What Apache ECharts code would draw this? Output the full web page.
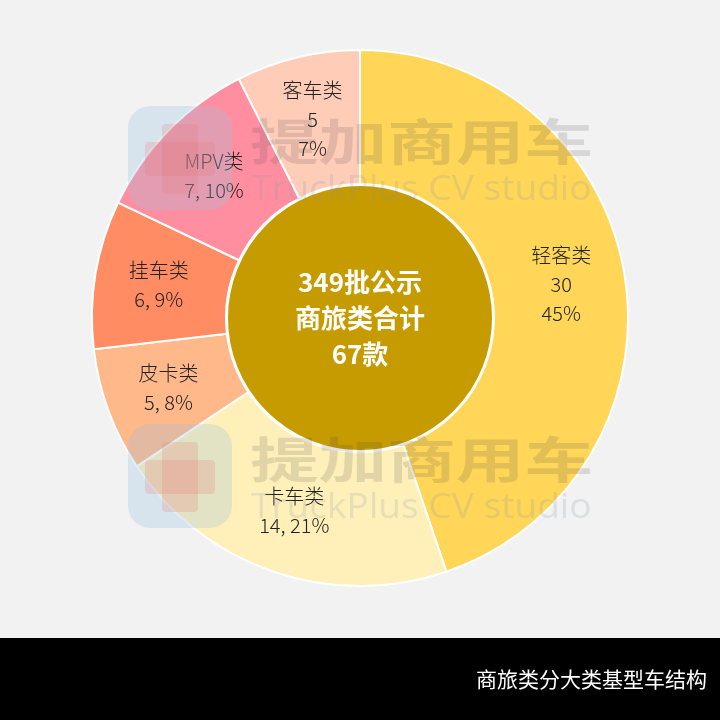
<!DOCTYPE html>
<html>
<head>
<meta charset="utf-8">
<script src="https://cdn.jsdelivr.net/npm/echarts@6/dist/echarts.min.js"></script>
<style>
html,body{margin:0;padding:0;background:#F2F2F2;}
#main{width:720px;height:720px;}
</style>
</head>
<body>
<div id="main"></div>
<script>
// ---- data ----
const categories = ['轻客类', '卡车类', '皮卡类', '挂车类', 'MPV类', '客车类'];
const values = [30, 14, 5, 6, 7, 5];
const percents = ['45%', '21%', '8%', '9%', '10%', '7%'];
const valuePctSeparators = ['\n', ', ', ', ', ', ', ', ', '\n'];
const sliceColors = ['#FFD658', '#FFF0B9', '#FFB88A', '#FF8C62', '#FF8FA0', '#FFCCB8'];
const centerLines = ['349批公示', '商旅类合计', '67款'];
const totalValue = [67];
const footerTitle = '商旅类分大类基型车结构';
const watermarkCN = '提加商用车';
const watermarkEN = 'TruckPlus CV studio';

const chart = echarts.init(document.getElementById('main'), null, {renderer: 'canvas'});

const ringData = categories.map((c, i) => ({
  name: c,
  value: values[i],
  itemStyle: {color: sliceColors[i]},
  label: {formatter: c + '\n' + values[i] + valuePctSeparators[i] + percents[i]}
}));

function watermark(dy) {
  return [
    {
      type: 'rect', z: 100, silent: true,
      shape: {x: 128, y: 106 + dy, width: 104, height: 104, r: 22},
      style: {fill: 'rgba(150,195,225,0.28)'}
    },
    {
      type: 'rect', z: 101, silent: true,
      shape: {x: 162, y: 124 + dy, width: 36, height: 70, r: 4},
      style: {fill: 'rgba(230,120,120,0.22)'}
    },
    {
      type: 'rect', z: 101, silent: true,
      shape: {x: 145, y: 142 + dy, width: 70, height: 34, r: 4},
      style: {fill: 'rgba(230,120,120,0.22)'}
    },
    {
      type: 'text', z: 100, silent: true,
      x: 250, y: 141 + dy, scaleX: 1.4,
      style: {
        text: watermarkCN, fill: 'rgba(80,80,80,0.17)',
        font: 'bold 49px "Noto Sans CJK SC"', textVerticalAlign: 'middle'
      }
    },
    {
      type: 'text', z: 100, silent: true,
      x: 251, y: 190 + dy, scaleX: 1.06,
      style: {
        text: watermarkEN, fill: 'rgba(130,150,170,0.2)',
        font: '35px "Open Sans"', textVerticalAlign: 'middle'
      }
    }
  ];
}

const option = {
  backgroundColor: '#F2F2F2',
  animation: false,
  series: [
    {
      type: 'pie',
      center: [360, 318],
      radius: [134, 268],
      startAngle: 90,
      clockwise: true,
      avoidLabelOverlap: false,
      silent: true,
      itemStyle: {borderColor: '#FFFFFF', borderWidth: 2},
      label: {
        show: true, position: 'inside',
        color: '#222222', fontSize: 20, lineHeight: 29,
        fontFamily: '"Noto Sans CJK SC"', fontWeight: 300
      },
      labelLine: {show: false},
      data: ringData
    },
    {
      type: 'pie',
      center: [360, 318],
      radius: [0, 133],
      silent: true,
      itemStyle: {color: '#C69B00', borderColor: '#FFFFFF', borderWidth: 2},
      label: {
        show: true, position: 'center',
        formatter: centerLines.join('\n'),
        color: '#FFFFFF', fontSize: 26, fontWeight: 'bold', lineHeight: 36,
        fontFamily: '"Noto Sans CJK SC"', padding: [24, 0, 0, 0]
      },
      labelLine: {show: false},
      data: [{name: 'total', value: totalValue[0]}]
    }
  ],
  graphic: [
    ...watermark(0),
    ...watermark(318),
    {
      type: 'rect', z: 110, silent: true,
      shape: {x: 0, y: 638, width: 720, height: 82},
      style: {fill: '#000000'}
    },
    {
      type: 'text', z: 111, silent: true,
      x: 707, y: 679,
      style: {
        text: footerTitle, fill: '#FFFFFF',
        font: '21px "Noto Sans CJK SC"', textAlign: 'right', textVerticalAlign: 'middle'
      }
    }
  ]
};
chart.setOption(option);
</script>
</body>
</html>
